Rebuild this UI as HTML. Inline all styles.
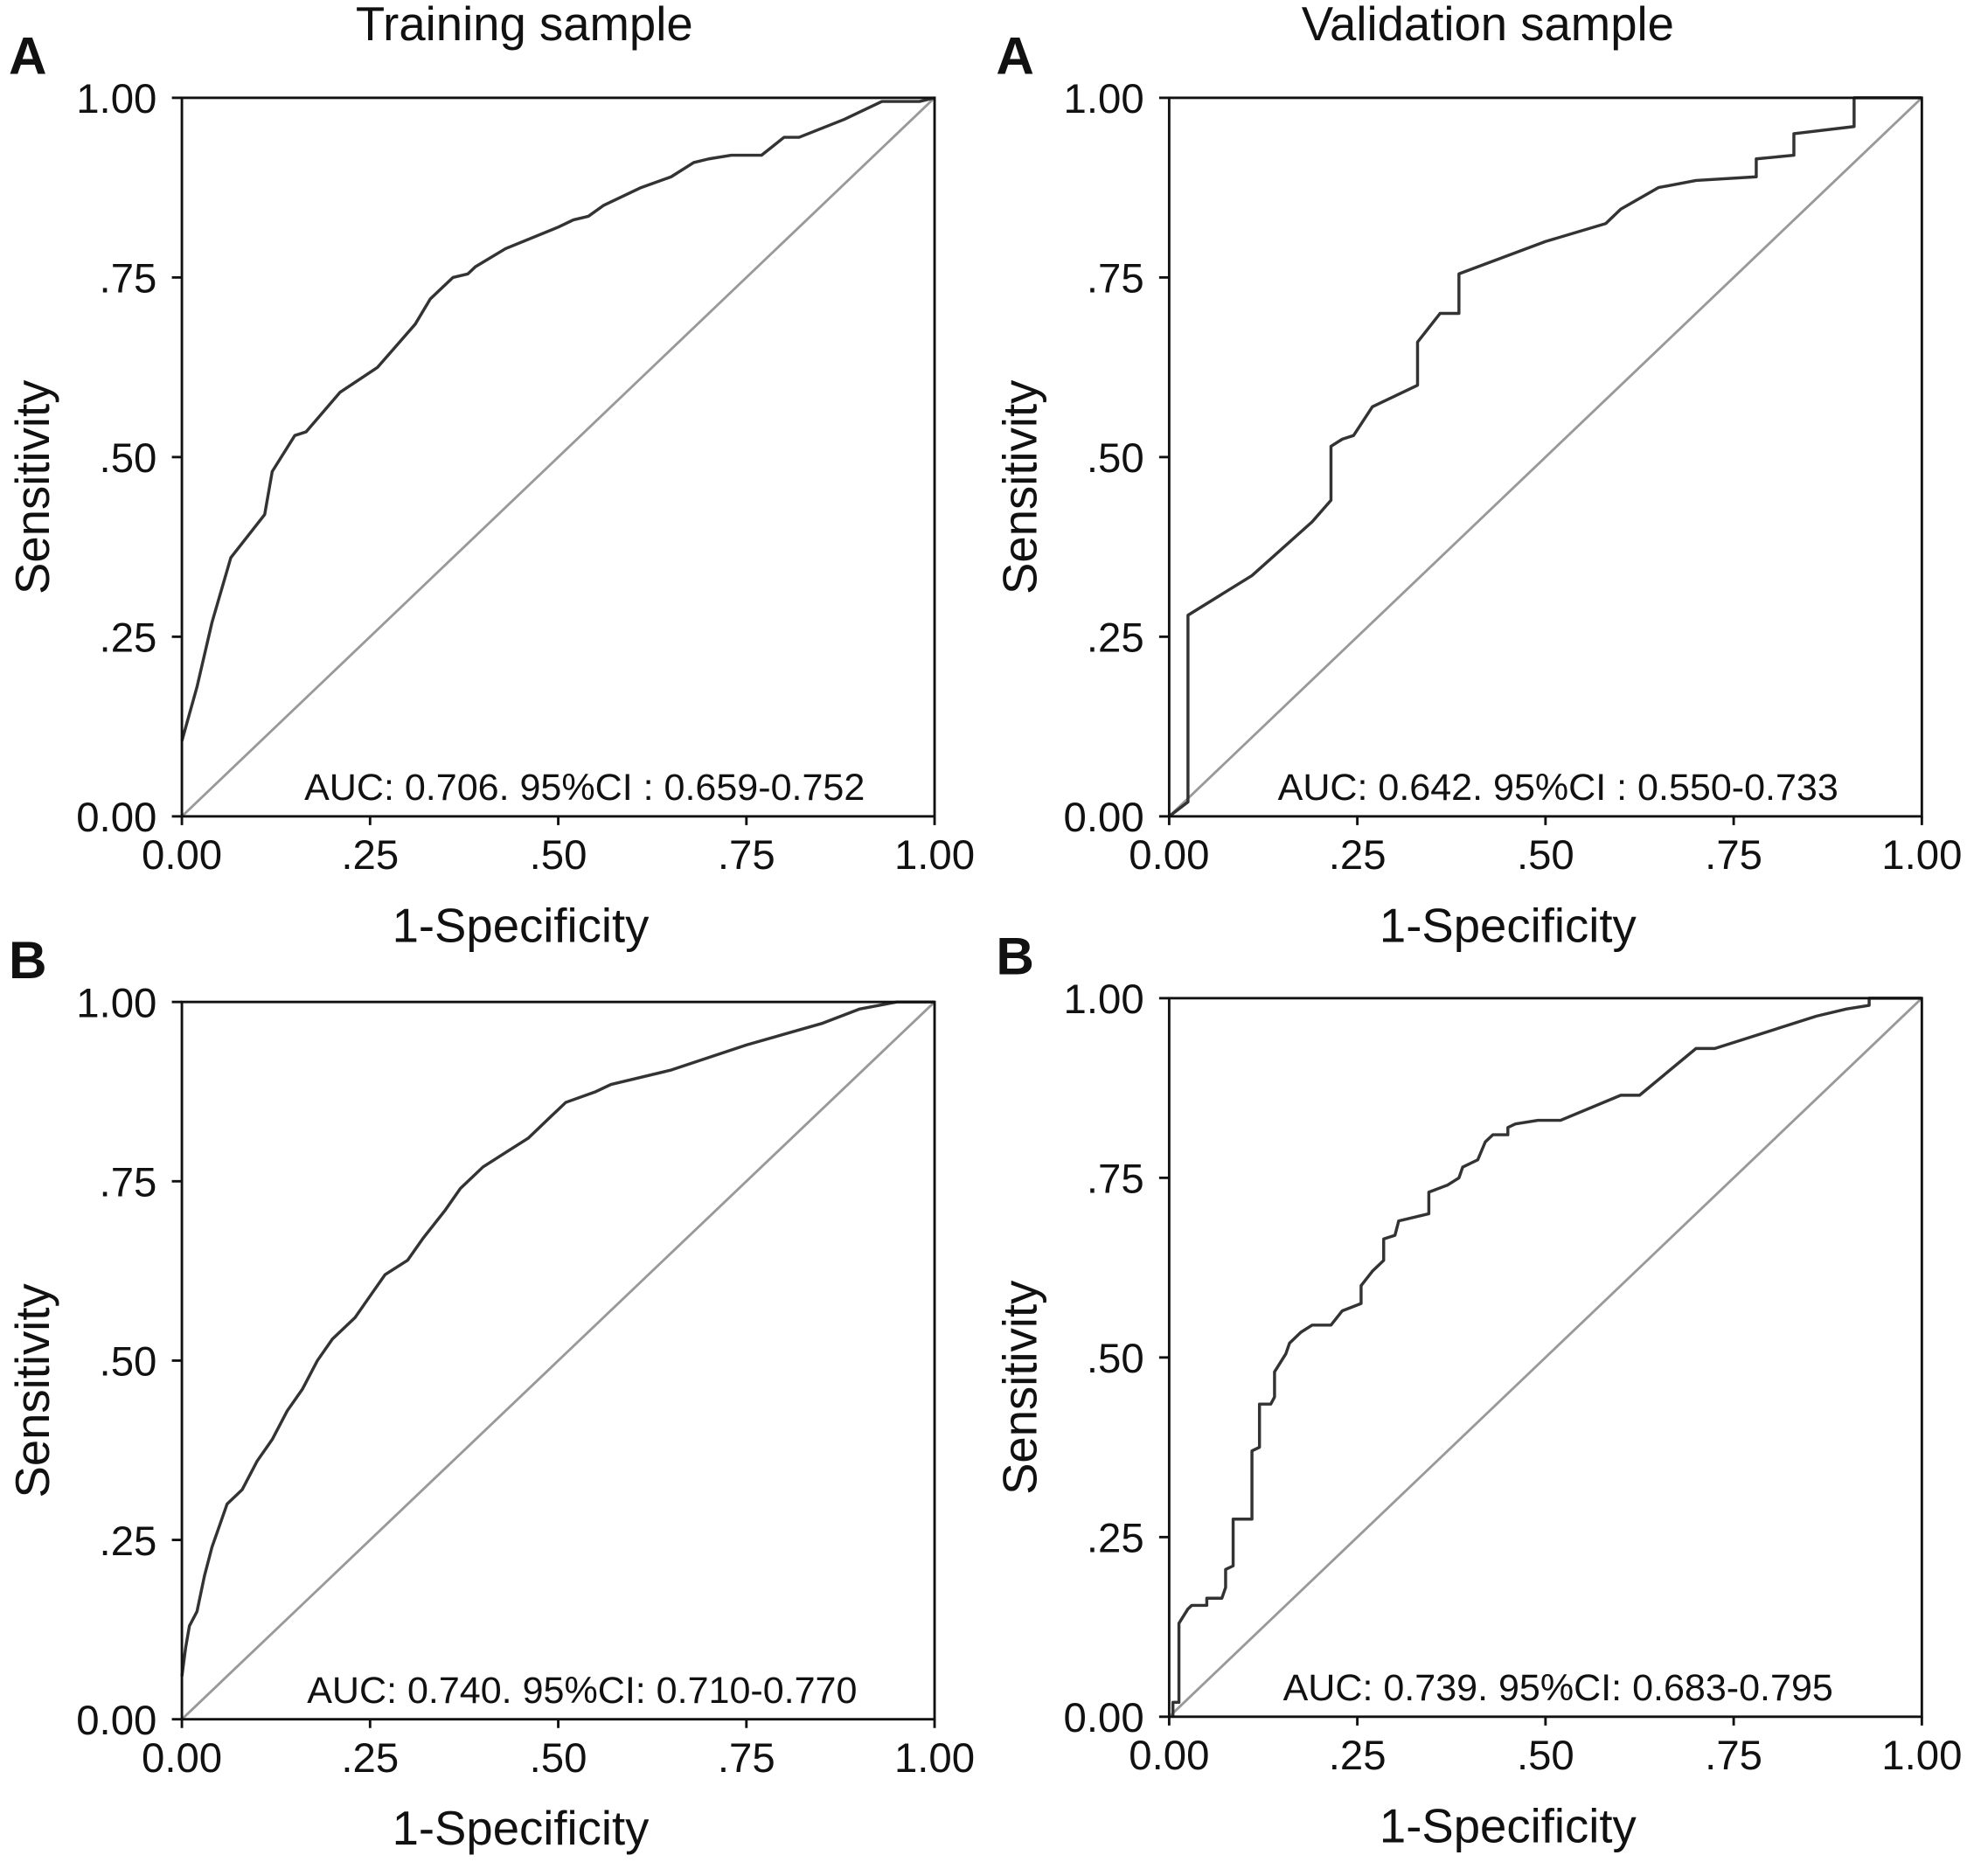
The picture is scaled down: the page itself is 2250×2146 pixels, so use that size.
<!DOCTYPE html>
<html><head><meta charset="utf-8"><style>
html,body{margin:0;padding:0;background:#fff}
svg{display:block}
text{font-family:"Liberation Sans",Arial,sans-serif;fill:#111}
</style></head><body>
<svg id="fig" width="2250" height="2146" viewBox="0 0 1568 1496" preserveAspectRatio="none" xmlns="http://www.w3.org/2000/svg">
<text x="418" y="32" font-size="38" text-anchor="middle">Training sample</text>
<text x="1186" y="32" font-size="38" text-anchor="middle">Validation sample</text>
</svg>
<script>
const ticks = [0, 0.25, 0.5, 0.75, 1];
const tickLabels = ["0.00", ".25", ".50", ".75", "1.00"];
const trainAx = [0,0.02,0.04,0.065,0.11,0.12,0.15,0.165,0.21,0.26,0.31,0.33,0.36,0.38,0.39,0.43,0.5,0.52,0.54,0.56,0.61,0.65,0.68,0.7,0.73,0.77,0.8,0.82,0.88,0.93,0.98,1];
const trainAy = [0.105,0.18,0.27,0.36,0.42,0.48,0.53,0.535,0.59,0.625,0.685,0.72,0.75,0.755,0.765,0.79,0.82,0.83,0.835,0.85,0.875,0.89,0.91,0.915,0.92,0.92,0.945,0.945,0.97,0.995,0.995,1];
const validAx = [0,0.025,0.025,0.11,0.19,0.215,0.215,0.23,0.245,0.27,0.33,0.33,0.36,0.385,0.385,0.5,0.58,0.6,0.65,0.7,0.78,0.78,0.83,0.83,0.91,0.91,1];
const validAy = [0,0.02,0.28,0.335,0.41,0.44,0.515,0.525,0.53,0.57,0.6,0.66,0.7,0.7,0.755,0.8,0.825,0.845,0.875,0.885,0.89,0.915,0.92,0.95,0.96,1,1];
const trainBx = [0,0.005,0.01,0.02,0.03,0.04,0.05,0.06,0.08,0.1,0.12,0.14,0.16,0.18,0.2,0.23,0.25,0.27,0.3,0.32,0.35,0.37,0.4,0.43,0.46,0.49,0.51,0.55,0.57,0.65,0.75,0.85,0.9,0.95,1];
const trainBy = [0.06,0.1,0.13,0.15,0.2,0.24,0.27,0.3,0.32,0.36,0.39,0.43,0.46,0.5,0.53,0.56,0.59,0.62,0.64,0.67,0.71,0.74,0.77,0.79,0.81,0.84,0.86,0.875,0.885,0.905,0.94,0.97,0.99,1,1];
const validBx = [0.005,0.005,0.013,0.013,0.025,0.03,0.05,0.05,0.07,0.075,0.075,0.085,0.085,0.11,0.11,0.12,0.12,0.135,0.14,0.14,0.155,0.16,0.175,0.19,0.215,0.23,0.255,0.255,0.27,0.285,0.285,0.3,0.305,0.345,0.345,0.37,0.385,0.39,0.41,0.42,0.43,0.45,0.45,0.46,0.49,0.52,0.6,0.625,0.7,0.725,0.86,0.9,0.93,0.93,1];
const validBy = [0,0.02,0.02,0.13,0.15,0.155,0.155,0.165,0.165,0.18,0.205,0.21,0.275,0.275,0.37,0.375,0.435,0.435,0.445,0.48,0.505,0.52,0.535,0.545,0.545,0.565,0.575,0.6,0.62,0.635,0.665,0.67,0.69,0.7,0.73,0.74,0.75,0.765,0.775,0.8,0.81,0.81,0.82,0.825,0.83,0.83,0.865,0.865,0.93,0.93,0.975,0.985,0.99,1,1];

const NS = "http://www.w3.org/2000/svg";
const svg = document.getElementById('fig');
function mk(tag, attrs, parent) {
  const e = document.createElementNS(NS, tag);
  for (const k in attrs) e.setAttribute(k, attrs[k]);
  (parent || svg).appendChild(e);
  return e;
}
const panels = [
  {name:'train-a', x0:145, x1:745, y0:78, y1:651, letter:'A', xs:trainAx, ys:trainAy, auc:'AUC: 0.706. 95%CI : 0.659-0.752', ax:466},
  {name:'valid-a', x0:932, x1:1532, y0:78, y1:651, letter:'A', xs:validAx, ys:validAy, auc:'AUC: 0.642. 95%CI : 0.550-0.733', ax:1242},
  {name:'train-b', x0:145, x1:745, y0:799, y1:1371, letter:'B', xs:trainBx, ys:trainBy, auc:'AUC: 0.740. 95%CI: 0.710-0.770', ax:464},
  {name:'valid-b', x0:932, x1:1532, y0:796, y1:1369, letter:'B', xs:validBx, ys:validBy, auc:'AUC: 0.739. 95%CI: 0.683-0.795', ax:1242}
];
panels.forEach(p => {
  const g = mk('g', {});
  
  
  const sx = v => p.x0 + v * (p.x1 - p.x0);
  const sy = v => p.y1 - v * (p.y1 - p.y0);
  const lt = mk('text', {x: p.x0 - 138, y: p.y0 - 19, 'font-size': 42, 'font-weight': 'bold'}, g);
  lt.textContent = p.letter;
  
  
  const diag = mk('line', {x1: sx(0), y1: sy(0), x2: sx(1), y2: sy(1), stroke: '#999', 'stroke-width': 2}, g);
  
  
  const pts = p.xs.map((x, i) => sx(x).toFixed(1) + ',' + sy(p.ys[i]).toFixed(1)).join(' ');
  const curve = mk('polyline', {points: pts, fill: 'none', stroke: '#333', 'stroke-width': 2.4, 'stroke-linejoin': 'round'}, g);
  
  
  const box = mk('rect', {x: p.x0, y: p.y0, width: p.x1 - p.x0, height: p.y1 - p.y0, fill: 'none', stroke: '#111', 'stroke-width': 2}, g);
  
  
  ticks.forEach((t, i) => {
    mk('line', {x1: sx(t), y1: p.y1, x2: sx(t), y2: p.y1 + 7, stroke: '#111', 'stroke-width': 2}, g);
    mk('line', {x1: p.x0 - 8, y1: sy(t), x2: p.x0, y2: sy(t), stroke: '#111', 'stroke-width': 2}, g);
    const xt = mk('text', {x: sx(t), y: p.y1 + 42, 'font-size': 33, 'text-anchor': 'middle'}, g);
    xt.textContent = tickLabels[i];
    
    
    const yt = mk('text', {x: p.x0 - 20, y: sy(t) + 12, 'font-size': 33, 'text-anchor': 'end'}, g);
    yt.textContent = tickLabels[i];
    
    
  });
  const xl = mk('text', {x: (p.x0 + p.x1) / 2 - 30, y: p.y1 + 100, 'font-size': 38, 'text-anchor': 'middle'}, g);
  xl.textContent = '1-Specificity';
  
  
  const yl = mk('text', {x: 0, y: 0, 'font-size': 38, 'text-anchor': 'middle', transform: 'translate(' + (p.x0 - 106) + ',' + ((p.y0 + p.y1) / 2 + 24) + ') rotate(-90)'}, g);
  yl.textContent = 'Sensitivity';
  
  
  const at = mk('text', {x: p.ax, y: p.y1 - 13, 'font-size': 30, 'text-anchor': 'middle'}, g);
  at.textContent = p.auc;
  
  
});
</script>
</body></html>
